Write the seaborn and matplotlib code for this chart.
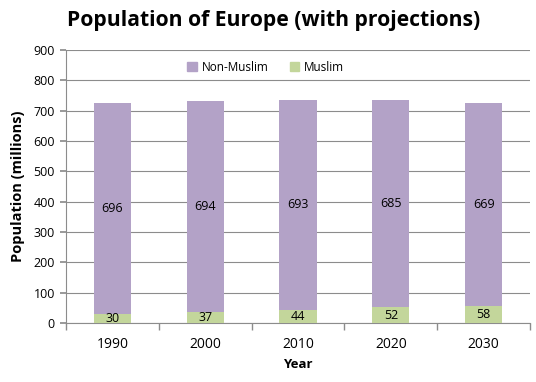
import numpy as np
import pandas as pd
import matplotlib
matplotlib.use("Agg")
import matplotlib.pyplot as plt
import seaborn as sns
from matplotlib.patches import Patch

# Data
years = ["1990", "2000", "2010", "2020", "2030"]
muslim = [30, 37, 44, 52, 58]
non_muslim = [696, 694, 693, 685, 669]

purple = "#B3A2C7"
green = "#C3D69B"

sns.set_theme(style="white")
plt.rcParams['font.family'] = ['Open Sans', 'DejaVu Sans']
plt.rcParams['text.color'] = 'black'
plt.rcParams['axes.labelcolor'] = 'black'
plt.rcParams['xtick.color'] = 'black'
plt.rcParams['ytick.color'] = 'black'

d = pd.DataFrame({"year": years, "muslim": muslim, "non_muslim": non_muslim})
d["total"] = d["muslim"] + d["non_muslim"]

fig = plt.figure(figsize=(5.36, 3.82), dpi=100)
ax = fig.add_axes([0.123, 0.154, 0.866, 0.715])

# Stacked bars: total (purple) then Muslim (green) on top
sns.barplot(data=d, x="year", y="total", color=purple, width=0.4,
            saturation=1, linewidth=0, ax=ax, zorder=2)
sns.barplot(data=d, x="year", y="muslim", color=green, width=0.4,
            saturation=1, linewidth=0, ax=ax, zorder=3)

# Segment labels
for i, (m, n) in enumerate(zip(muslim, non_muslim)):
    ax.text(i, m / 2, str(m), ha="center", va="center", fontsize=9, color="black", zorder=4)
    ax.text(i, m + n / 2, str(n), ha="center", va="center", fontsize=9, color="black", zorder=4)

ax.set_ylim(0, 900)
ax.set_yticks(range(0, 901, 100))
ax.set_xlim(-0.5, 4.5)
ax.yaxis.grid(True, color="#8C8C8C", linewidth=0.8, zorder=0)
ax.set_axisbelow(True)

for s in ["top", "right"]:
    ax.spines[s].set_visible(False)
for s in ["left", "bottom"]:
    ax.spines[s].set_color("#8C8C8C")
    ax.spines[s].set_linewidth(0.8)

ax.tick_params(axis="y", labelsize=9, length=4, color="#8C8C8C", left=True, pad=4)
ax.tick_params(axis="x", labelsize=10, length=0, pad=10)
# Category separator ticks
ax.set_xticks(np.arange(-0.5, 5, 1), minor=True)
ax.tick_params(axis="x", which="minor", length=5, color="#8C8C8C", bottom=True)

ax.set_xlabel("Year", fontsize=9.5, fontweight="bold", labelpad=4)
ax.set_ylabel("Population (millions)", fontsize=10.5, fontweight="bold", labelpad=6)

fig.suptitle("Population of Europe (with projections)", fontsize=15.2,
             fontweight="bold", x=0.51, y=0.975, ha="center", va="top")

handles = [Patch(color=purple, label="Non-Muslim"), Patch(color=green, label="Muslim")]
ax.legend(handles=handles, loc="upper center", bbox_to_anchor=(0.43, 1.0), ncol=2,
          frameon=False, fontsize=8.5, handlelength=0.8, handleheight=0.8,
          handletextpad=0.4, columnspacing=1.8)

fig.savefig("out.png", dpi=100)
